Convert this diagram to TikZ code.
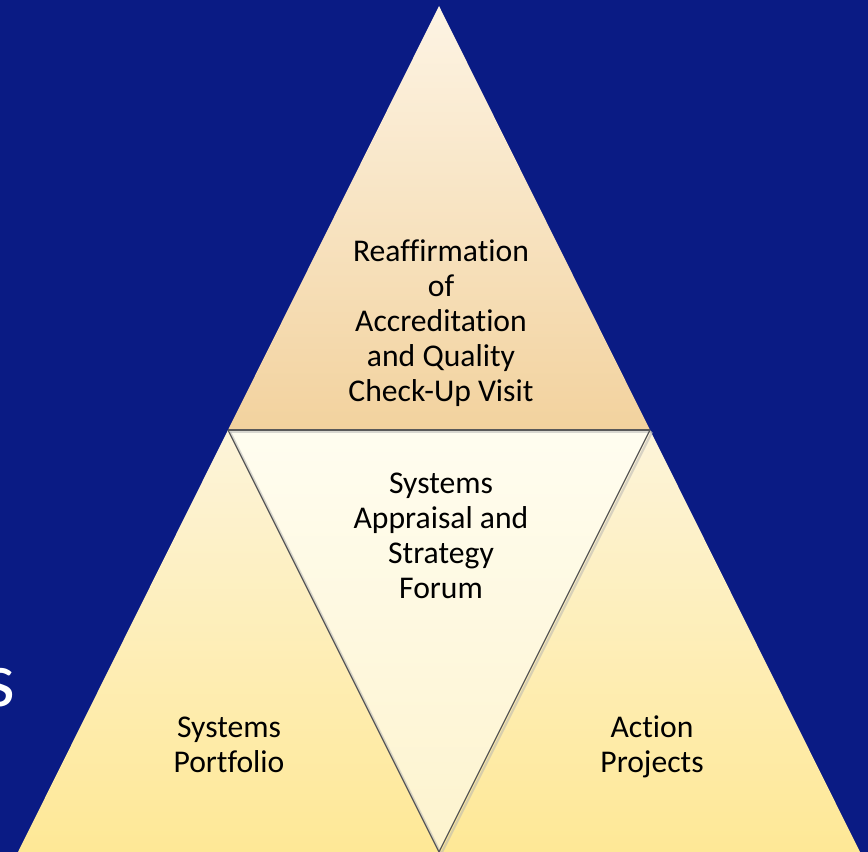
\documentclass[tikz,border=0pt]{standalone}
\usepackage{fontspec}
\setmainfont[Ligatures=NoCommon]{Carlito}
\usetikzlibrary{positioning, calc}

\definecolor{navybg}{RGB}{10,27,132}
\definecolor{peaktop}{RGB}{253,244,228}
\definecolor{peakbot}{RGB}{242,210,158}
\definecolor{sidetop}{RGB}{253,244,218}
\definecolor{sidebot}{RGB}{254,232,150}
\definecolor{midtop}{RGB}{255,253,240}
\definecolor{midbot}{RGB}{253,243,205}

\begin{document}
\begin{tikzpicture}[
    x=0.025cm, y=-0.025cm,
    % Node styles
    tlabel/.style={align=center, font=\fontsize{22.5}{24.8}\selectfont, text=black, inner sep=0pt},
    divider/.style={draw=black!65, line width=0.9pt},
    dshadow/.style={draw=black!30, line width=1.6pt, opacity=0.5},
]
\useasboundingbox (0,0) rectangle (868,852);

% Background
\fill[navybg] (0,0) rectangle (868,852);

% Corner points of the pyramid
\coordinate (apex) at (439,6);
\coordinate (bl) at (18,852);
\coordinate (br) at (860,852);
\coordinate (ml) at (228,430);
\coordinate (mr) at (650,430);
\coordinate (bm) at (439,852);

% ============================================================================
% FILLS
% ============================================================================
\shade[top color=peaktop, bottom color=peakbot] (apex) -- (mr) -- (ml) -- cycle;
\shade[top color=sidetop, bottom color=sidebot] (ml) -- (bm) -- (bl) -- cycle;
\shade[top color=sidetop, bottom color=sidebot] (mr) -- (br) -- (bm) -- cycle;
\shade[top color=midtop, bottom color=midbot] (ml) -- (mr) -- (bm) -- cycle;

% Dividing lines (with a soft shadow)
\draw[dshadow] ([shift={(2,2)}]ml) -- ([shift={(2,2)}]mr);
\draw[dshadow] ([shift={(2,2)}]ml) -- ([shift={(2,2)}]bm) -- ([shift={(2,2)}]mr);
\draw[divider] (ml) -- (mr);
\draw[divider] (ml) -- (bm) -- (mr);

% ============================================================================
% LABELS
% ============================================================================
\node[tlabel] (visit) at (441,323) {Reaffirmation\\of\\Accreditation\\and Quality\\Check-Up Visit};
\node[tlabel] (forum) at (441,536) {Systems\\Appraisal and\\Strategy\\Forum};
\node[tlabel] (portfolio) at (229,745) {Systems\\Portfolio};
\node[tlabel] (projects) at (652,747) {Action\\Projects};

% Cut-off title text at the left edge
\node[font=\fontsize{56}{60}\selectfont, text=white, anchor=base east, inner sep=0pt] (cut) at (16,706) {s};

\end{tikzpicture}
\end{document}
